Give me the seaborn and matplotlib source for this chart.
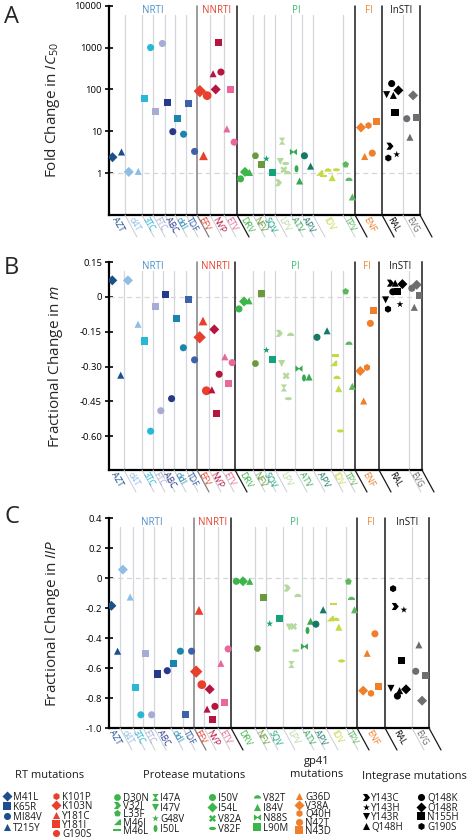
import numpy as np
import pandas as pd
import matplotlib
matplotlib.use("Agg")
import matplotlib.pyplot as plt
import seaborn as sns
from matplotlib.path import Path
from matplotlib.font_manager import FontProperties


# =============================================================================
# DATA
# =============================================================================
drugs = ["AZT", "d4T", "3TC", "FTC", "ABC", "ddI", "TDF",
         "EFV", "NVP", "ETV",
         "DRV", "NFV", "SQV", "LPV", "ATV", "APV", "IDV", "TPV",
         "ENF",
         "RAL", "EVG"]

drug_classes = ["NRTI", "NNRTI", "PI", "FI", "InSTI"]
class_sizes = [7, 3, 8, 1, 2]

mutations = [
    ["M41L", "T215Y"],
    ["M41L", "T215Y"],
    ["K65R", "M184V"],
    ["K65R", "M184V"],
    ["K65R", "M184V"],
    ["K65R", "M184V"],
    ["K65R", "M184V"],
    ["K103N", "Y181C", "G190S"],
    ["Y181C", "K103N", "Y181I", "G190S"],
    ["Y181C", "Y181I", "G190S"],
    ["I50V", "I54L", "I84V"],
    ["D30N", "L90M"],
    ["G48V", "L90M"],
    ["V32I", "I47V", "I47A", "V82A", "V82F", "V82T"],
    ["N88S", "I50L", "I84V"],
    ["I50V", "I84V"],
    ["M46I", "M46L", "V82T", "I84V", "V82F"],
    ["L33F", "V82T", "I84V"],
    ["V38A", "G36D", "Q40H", "N42T", "N43D"],
    ["Y143R", "G190S_IN", "Y143C", "Q148K", "Q148H", "N155H", "Y143H", "Q148R"],
    ["Q148K", "Q148H", "Q148R", "N155H"],
]

fold_ic50 = [
    [2.4, 3.2], [1.07, 1.1], [62, 1000], [30, 1250], [49, 9.8], [20, 8.5], [45, 3.3],
    [91, 2.6, 71], [237, 100, 1350, 260], [11.4, 100, 5.5],
    [0.73, 1.07, 1.04], [2.6, 1.6], [2.2, 1.05], [0.59, 1.9, 5.8, 1.2, 1.7, 1.0],
    [3.2, 1.27, 0.65], [2.6, 1.47], [1.0, 0.85, 1.15, 0.78, 1.2], [1.6, 0.69, 0.27],
    [12.3, 2.5, 13.7, 3.0, 17],
    [75, 2.3, 4.4, 138, 72, 28, 2.8, 95], [20, 7.2, 72, 21],
]

frac_m = [
    [0.071, -0.337], [0.071, -0.118], [-0.19, -0.578], [-0.043, -0.49],
    [0.012, -0.438], [-0.092, -0.219], [-0.01, -0.271],
    [-0.174, -0.104, -0.404], [-0.40, -0.14, -0.503, -0.333], [-0.258, -0.371, -0.283],
    [-0.052, -0.02, -0.017], [-0.287, 0.016], [-0.229, -0.27],
    [-0.157, -0.287, -0.392, -0.34, -0.438, -0.164],
    [-0.309, -0.349, -0.345], [-0.174, -0.146], [-0.287, -0.252, -0.349, -0.395, -0.577],
    [0.023, -0.202, -0.385],
    [-0.319, -0.448, -0.304, -0.114, -0.059],
    [-0.013, -0.053, 0.059, 0.022, 0.059, 0.022, -0.032, 0.055], [0.037, -0.045, 0.052, 0.004],
]

frac_iip = [
    [-0.185, -0.488], [0.056, -0.127], [-0.729, -0.912], [-0.502, -0.912],
    [-0.64, -0.618], [-0.573, -0.488], [-0.907, -0.488],
    [-0.624, -0.216, -0.711], [-0.874, -0.742, -0.941, -0.856], [-0.569, -0.829, -0.473],
    [-0.022, -0.022, -0.022], [-0.47, -0.127], [-0.305, -0.268],
    [-0.067, -0.328, -0.577, -0.323, -0.484, -0.12],
    [-0.457, -0.35, -0.288], [-0.308, -0.212], [-0.272, -0.174, -0.279, -0.328, -0.553],
    [-0.025, -0.14, -0.212],
    [-0.751, -0.502, -0.769, -0.372, -0.722],
    [-0.736, -0.071, -0.19, -0.787, -0.751, -0.551, -0.212, -0.742], [-0.622, -0.446, -0.818, -0.647],
]

legend_titles = ["RT mutations", "Protease mutations", "gp41\nmutations", "Integrase mutations"]

legend_columns = [
    ["M41L", "K65R", "M184V", "T215Y"],
    ["K101P", "K103N", "Y181C", "Y181I", "G190S"],
    ["D30N", "V32I", "L33F", "M46I", "M46L"],
    ["I47A", "I47V", "G48V", "I50L"],
    ["I50V", "I54L", "V82A", "V82F"],
    ["V82T", "I84V", "N88S", "L90M"],
    ["G36D", "V38A", "Q40H", "N42T", "N43D"],
    ["Y143C", "Y143H", "Y143R", "Q148H"],
    ["Q148K", "Q148R", "N155H", "G190S_IN"],
]

legend_labels = {"M184V": "MI84V", "G190S_IN": "G190S"}

# =============================================================================
# STYLE
# =============================================================================
drug_colors = {
    "AZT": "#1b4f8a", "d4T": "#8ebde6", "3TC": "#27b8d8", "FTC": "#a7abd5",
    "ABC": "#27398c", "ddI": "#1a86b0", "TDF": "#3d62aa",
    "EFV": "#e8402c", "NVP": "#b5153e", "ETV": "#e8689b",
    "DRV": "#3cb54a", "NFV": "#6a9a3c", "SQV": "#12a37a", "LPV": "#b5d89c",
    "ATV": "#36a852", "APV": "#147a66", "IDV": "#c6d945", "TPV": "#5cb85c",
    "ENF": "#ef7f2a", "RAL": "#000000", "EVG": "#6d6e70",
}

drug_sizes = {d: 26 for d in drugs}
drug_sizes["EFV"] = 40

class_colors = ["#4b8fc8", "#e8402c", "#3cb878", "#ef8a3a", "#1a1a1a"]
class_lines = ["#808080", "#1a1a1a", "#1a1a1a", "#1a1a1a", "#1a1a1a"]

# column widths (pixels) in each panel
widths_a = [16, 17, 11, 12, 10, 11, 11, 13, 14, 13, 16, 11, 11, 16, 11, 11, 30, 12, 27, 21, 17]
widths_b = [15, 18, 11, 10, 11, 12, 11, 12, 13, 13, 18, 11, 11, 20, 18, 18, 12, 12, 24, 30, 13]
widths_c = [11, 13, 10, 11, 17, 12, 11, 10, 14, 13, 24, 11, 17, 19, 11, 13, 20, 11, 28, 27, 17]

# legend layout: (colour, marker x, text x, first row y, row step), pixels
legend_layout = [
    ("#1f4e8c", 7, 13, 796, 10.2),
    ("#e8402c", 56, 62, 796, 9.3),
    ("#3cb54a", 117, 123, 797, 8.2),
    ("#3cb54a", 155, 160, 797, 10.4),
    ("#3cb54a", 212, 218, 797, 10.4),
    ("#3cb54a", 257, 263, 797, 10.0),
    ("#ef7f2a", 299, 305, 796, 8.6),
    ("black", 366, 371, 797, 9.7),
    ("black", 421, 427, 797, 9.7),
]
title_layout = [(50, 776), (194, 776), (317, 768), (414, 776)]

LEG_FONT = 7


def closed(v):
    v = np.asarray(v, dtype=float)
    return Path(np.vstack([v, v[:1]]), closed=True)


def ellipse(a, b):
    t = np.linspace(0, 2 * np.pi, 40, endpoint=False)
    return closed(np.column_stack([a * np.cos(t), b * np.sin(t)]))


def dome():
    t = np.linspace(0, np.pi, 30)
    pts = np.column_stack([np.cos(t), 0.95 * np.sin(t) - 0.3])
    return closed(pts)


chevron = closed([(-1, 1), (0.15, 1), (1, 0), (0.15, -1), (-1, -1), (-0.3, 0)])
wedge = closed([(-1, -0.75), (0.6, 0.85), (1, 0.85), (1, -0.75)])
bar = closed([(-1, -0.32), (1, -0.32), (1, 0.32), (-1, 0.32)])
hourglass = closed([(-0.9, 1), (0.9, 1), (0.12, 0), (0.9, -1), (-0.9, -1), (-0.12, 0)])
bowtie = closed([(-1, -0.9), (-1, 0.9), (0, 0.12), (1, 0.9), (1, -0.9), (0, -0.12)])

markers = {
    "M41L": "D", "K65R": "s", "M184V": "o", "T215Y": "^",
    "K101P": "h", "K103N": "D", "Y181C": "^", "Y181I": "s", "G190S": "o",
    "D30N": "8", "V32I": chevron, "L33F": "p", "M46I": wedge, "M46L": bar,
    "I47A": hourglass, "I47V": "v", "G48V": "*", "I50L": ellipse(0.55, 1),
    "I50V": "o", "I54L": "D", "V82A": "X", "V82F": ellipse(1, 0.45),
    "V82T": dome(), "I84V": "^", "N88S": bowtie, "L90M": "s",
    "G36D": "^", "V38A": "D", "Q40H": "h", "N42T": "o", "N43D": "s",
    "Y143C": chevron, "Y143H": "*", "Y143R": "v", "Q148H": "^",
    "Q148K": "o", "Q148R": "D", "N155H": "s", "G190S_IN": "h",
}

sns.set_theme(style="white")
plt.rcParams["font.family"] = ["Open Sans", "DejaVu Sans"]
plt.rcParams["mathtext.fontset"] = "custom"
plt.rcParams["mathtext.rm"] = "Open Sans"
plt.rcParams["mathtext.it"] = "Open Sans:italic"


# =============================================================================
# PANELS
# =============================================================================
def build_frame(values, widths):

    edges = np.concatenate([[0], np.cumsum(widths)])
    centers = (edges[:-1] + edges[1:]) / 2

    rows = []

    for i, drug in enumerate(drugs):
        n = len(mutations[i])
        offs = np.linspace(-1, 1, n) * 0.28 * widths[i] if n > 1 else [0]
        for off, mut, val in zip(offs, mutations[i], values[i]):
            rows.append({"x": centers[i] + off, "value": val, "drug": drug, "mutation": mut})

    return pd.DataFrame(rows), edges, centers


def draw_panel(ax, values, widths, log=False):

    df, edges, centers = build_frame(values, widths)

    if log:
        ax.set_yscale("log")

    class_edges = np.concatenate([[0], np.cumsum(class_sizes)])
    group_idx = class_edges[1:].tolist()

    # light column separators
    for k in range(1, len(drugs)):
        if k in group_idx:
            continue
        ax.axvline(edges[k], ymin=0, ymax=0.955, color="#d3d6dd", lw=0.9, zorder=0)

    # class separators
    for j in range(1, len(class_sizes)):
        ax.axvline(edges[class_edges[j]], ymin=0, ymax=1.0, color=class_lines[j - 1],
                   lw=1.1, zorder=1, clip_on=False)

    sns.scatterplot(data=df, x="x", y="value", hue="drug", palette=drug_colors,
                    hue_order=drugs, style="mutation", markers=markers,
                    size="drug", sizes=drug_sizes,
                    linewidth=0, edgecolor="none", legend=False, ax=ax, zorder=3)

    ax.set_xlim(0, edges[-1])

    # class titles
    for j, name in enumerate(drug_classes):
        x0 = edges[class_edges[j]]
        x1 = edges[class_edges[j + 1]]
        ax.text((x0 + x1) / 2, 0.978, name, transform=ax.get_xaxis_transform(),
                ha="center", va="center", fontsize=7, color=class_colors[j])

    # slanted lines below the axis
    for k in range(1, len(drugs) + 1):
        if k in group_idx:
            col = class_lines[group_idx.index(k)]
            lw = 0.9
        else:
            col = "#c9ccd3"
            lw = 0.7
        ax.annotate("", xy=(edges[k], 0), xycoords=ax.get_xaxis_transform(),
                    xytext=(12, -22), textcoords="offset pixels",
                    arrowprops=dict(arrowstyle="-", color=col, lw=lw, shrinkA=0, shrinkB=0),
                    annotation_clip=False)

    # drug labels
    for xc, d in zip(centers, drugs):
        ax.annotate(d, xy=(xc, 0), xycoords=ax.get_xaxis_transform(),
                    xytext=(-3, -3), textcoords="offset pixels",
                    rotation=-60, rotation_mode="anchor", ha="left", va="center",
                    fontsize=6.3, color=drug_colors[d], annotation_clip=False)

    ax.set_xticks([])
    ax.set_xlabel("")

    for side in ["left", "bottom"]:
        ax.spines[side].set_color("black")
        ax.spines[side].set_linewidth(1.6)
    ax.spines["right"].set_color("#1a1a1a")
    ax.spines["right"].set_linewidth(1.1)
    ax.spines["top"].set_visible(False)

    ax.tick_params(axis="y", direction="inout", length=6, width=1.2,
                   labelsize=6.8, colors="black", pad=2, left=True)
    ax.minorticks_off()


# =============================================================================
# LEGEND
# =============================================================================
def draw_legend(fig, W, H):

    top = 740

    lax = fig.add_axes([0, 0, 1, (H - top) / H])
    lax.set_xlim(0, W)
    lax.set_ylim(H, top)
    lax.axis("off")

    for (cx, cy), title in zip(title_layout, legend_titles):
        lax.text(cx, cy, title, ha="center", va="center", fontsize=8,
                 color="#1a1a1a", linespacing=1.2)

    # line metrics measured by the renderer (pixels)
    renderer = fig.canvas.get_renderer()
    fp = FontProperties(family=["Open Sans", "DejaVu Sans"], size=LEG_FONT)
    _, lp_h, lp_d = renderer.get_text_width_height_descent("lp", fp, ismath=False)
    _, cap_h, _ = renderer.get_text_width_height_descent("H", fp, ismath=False)
    asc = lp_h - lp_d

    for keys, (col, mx, tx, y0, dy) in zip(legend_columns, legend_layout):
        ys = y0 + dy * np.arange(len(keys))
        for key, y in zip(keys, ys):
            lax.scatter([mx], [y], marker=markers[key], s=26, color=col,
                        linewidths=0, clip_on=False)
        text = "\n".join(legend_labels.get(k, k) for k in keys)
        lax.text(tx, y0 - asc + cap_h / 2, text, ha="left", va="top",
                 fontsize=LEG_FONT, color="#1a1a1a",
                 linespacing=(dy - lp_d) / asc)


def main():

    fig = plt.figure(figsize=(4.68, 8.4), dpi=100)

    W, H = 468, 840

    ax_a = fig.add_axes([109 / W, 1 - 215 / H, 311 / W, (215 - 5.7) / H])
    ax_b = fig.add_axes([109 / W, 1 - 470 / H, 313 / W, (470 - 262) / H])
    ax_c = fig.add_axes([109 / W, 1 - 728 / H, 320 / W, (728 - 518) / H])

    # ---- A
    ax_a.axhline(1, color="#d6d6d6", lw=0.9, ls=(0, (4, 3)), zorder=1)
    draw_panel(ax_a, fold_ic50, widths_a, log=True)
    ax_a.set_ylim(0.1, 10000)
    ax_a.set_yticks([1, 10, 100, 1000, 10000])
    ax_a.set_yticklabels(["1", "10", "100", "1000", "10000"])
    ax_a.minorticks_off()
    ax_a.set_ylabel(r"Fold Change in $\mathit{IC}_{50}$", fontsize=11)
    ax_a.yaxis.set_label_coords(-0.15, 0.5)

    # ---- B
    ax_b.axhline(0, color="#e0d4d8", lw=0.9, ls=(0, (4, 3)), zorder=1)
    draw_panel(ax_b, frac_m, widths_b)
    ax_b.set_ylim(-0.745, 0.15)
    ax_b.set_yticks([-0.60, -0.45, -0.30, -0.15, 0, 0.15])
    ax_b.set_yticklabels(["-0.60", "-0.45", "-0.30", "-0.15", "0", "0.15"])
    ax_b.set_ylabel(r"Fractional Change in $\mathit{m}$", fontsize=11)
    ax_b.yaxis.set_label_coords(-0.14, 0.5)

    # ---- C
    ax_c.axhline(0, color="#d6d6d6", lw=0.9, ls=(0, (4, 3)), zorder=1)
    draw_panel(ax_c, frac_iip, widths_c)
    ax_c.set_ylim(-1.0, 0.4)
    ax_c.set_yticks([-1.0, -0.8, -0.6, -0.4, -0.2, 0, 0.2, 0.4])
    ax_c.set_yticklabels(["-1.0", "-0.8", "-0.6", "-0.4", "-0.2", "0", "0.2", "0.4"])
    ax_c.set_ylabel(r"Fractional Change in $\mathit{IIP}$", fontsize=11)
    ax_c.yaxis.set_label_coords(-0.147, 0.5)

    # panel letters
    for y_px, letter in [(5, "A"), (256, "B"), (505, "C")]:
        fig.text(4 / W, 1 - y_px / H, letter, fontsize=17, va="top", ha="left")

    draw_legend(fig, W, H)

    fig.savefig("out.png", dpi=100)
    plt.close(fig)


if __name__ == "__main__":

    main()
